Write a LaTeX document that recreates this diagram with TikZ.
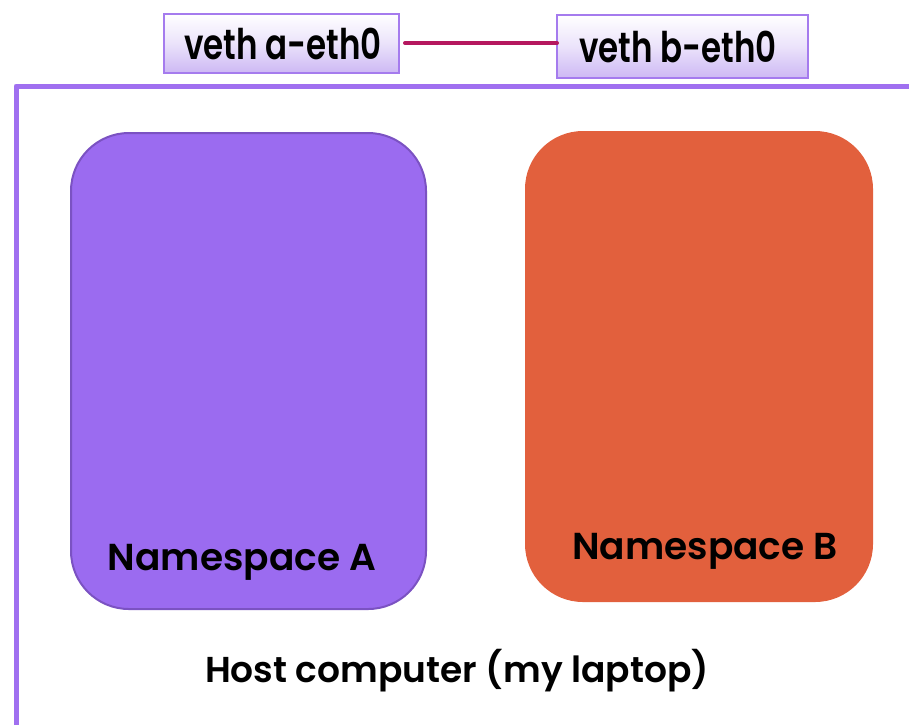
\documentclass[tikz,border=0pt]{standalone}
\usepackage{graphicx}
\usepackage{fontspec}
\setmainfont{Poppins}[BoldFont={* SemiBold}]
\usetikzlibrary{calc}
\definecolor{hostline}{HTML}{A070F0}
\definecolor{vethedge}{HTML}{A57BEE}
\definecolor{vethbot}{HTML}{CDB8F4}
\definecolor{link}{HTML}{B5175F}
\definecolor{nsafill}{HTML}{9B6BF0}
\definecolor{nsaedge}{HTML}{7B52C2}
\definecolor{nsbfill}{HTML}{E2603D}
\tikzset{
  vethbox/.style={draw=vethedge, line width=2pt, top color=white, bottom color=vethbot,
    middle color=white!60!vethbot, shading angle=0},
  label/.style={font=\bfseries, text=black, inner sep=0pt},
}
\newcommand{\tallveth}[1]{\scalebox{1}[1.3]{#1}}
\begin{document}
\begin{tikzpicture}[x=1pt,y=-1pt]
  \useasboundingbox (0,0) rectangle (909,724);
  % host frame
  \draw[hostline, line width=5pt, line join=round] (16,730) -- (16,86) -- (915,86);
  % namespaces
  \draw[fill=nsafill, draw=nsaedge, line width=2pt, rounded corners=58pt]
    (71,133) rectangle (426,609);
  \fill[nsbfill, rounded corners=58pt] (525,131) rectangle (873,602);
  \node[label, font=\bfseries\fontsize{37.5}{42}\selectfont] (nsa) at (242,562) {Namespace A};
  \node[label, font=\bfseries\fontsize{37.5}{42}\selectfont] (nsb) at (705,551) {Namespace B};
  \node[label, font=\bfseries\fontsize{36}{40}\selectfont] (host) at (457,671) {Host computer (my laptop)};
  % veth pair
  \path[vethbox] (164,14) rectangle (399,73);
  \path[vethbox] (557,15) rectangle (808,78);
  \node[label, font=\bfseries\fontsize{32.5}{38}\selectfont] (va) at (283,44) {\tallveth{veth a-eth0}};
  \node[label, font=\bfseries\fontsize{32.5}{38}\selectfont] (vb) at (678,47) {\tallveth{veth b-eth0}};
  \coordinate (la) at (405,43);
  \coordinate (lb) at (557,43);
  \draw[link, line width=4pt, line cap=round] (la) -- (lb);
\end{tikzpicture}
\end{document}
